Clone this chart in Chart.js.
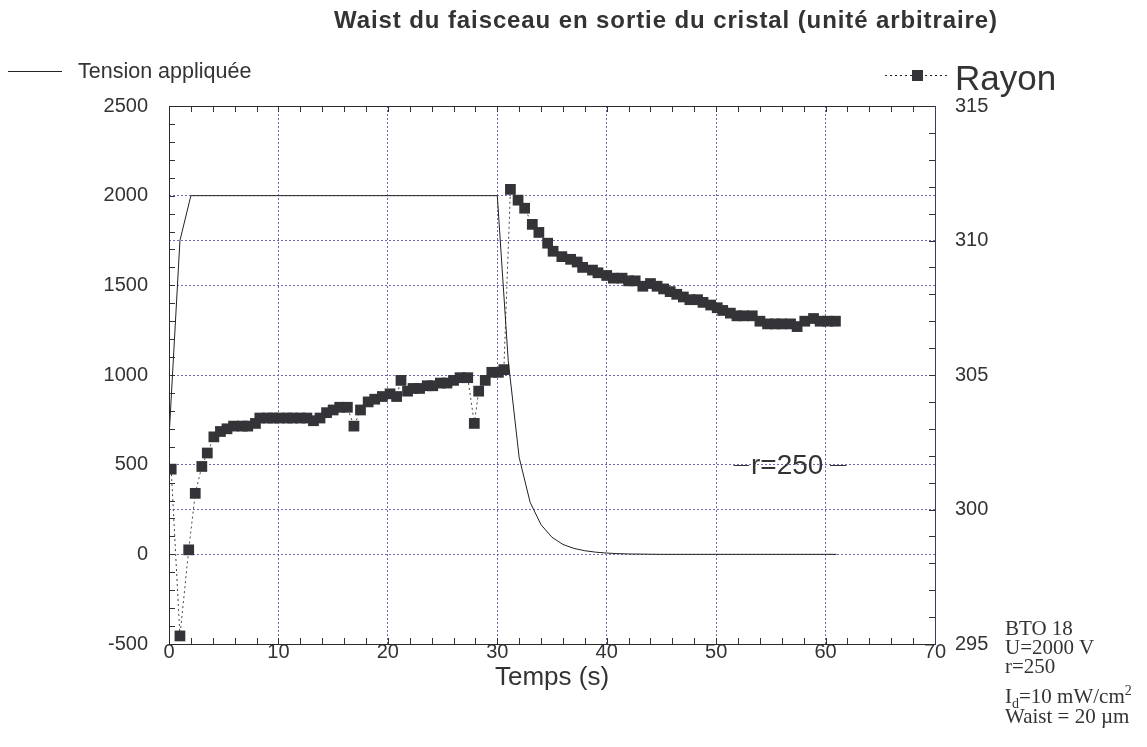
<!DOCTYPE html>
<html lang="fr">
<head>
<meta charset="utf-8">
<title>Waist du faisceau</title>
<script src="https://cdn.jsdelivr.net/npm/chart.js@4.4.1/dist/chart.umd.min.js"></script>
<style>
    body { margin: 0; background: #fff; }
    #zone { position: relative; width: 1147px; height: 747px; overflow: hidden; }
    #graphe { position: absolute; left: 0; top: 0; }
    .txt { position: absolute; white-space: nowrap; line-height: 1; color: #333;
           font-family: "Liberation Sans", Arial, Helvetica, sans-serif; }
    #titre { left: 666px; top: 8px; transform: translateX(-50%); font-size: 24px; font-weight: bold; letter-spacing: 0.9px; }
    #legTension { left: 78px; top: 61px; font-size: 21.5px; }
    #legRayon { left: 955px; top: 60px; font-size: 35px; }
    #labelR { left: 751px; top: 451px; font-size: 28px; }
    #notes { left: 1005px; top: 619px; font-family: "Liberation Serif", "Times New Roman", serif;
             font-size: 21px; line-height: 19px; color: #333; }
    #notes div { height: 19px; }
    #notes .esp1 { margin-top: 11px; }
    #notes .esp2 { margin-top: 1px; }
    sub, sup { font-size: 14px; line-height: 0; }
</style>
</head>
<body>
<div id="zone">
    <canvas id="graphe" width="1147" height="747"></canvas>
    <div class="txt" id="titre">Waist du faisceau en sortie du cristal (unité arbitraire)</div>
    <div class="txt" id="legTension">Tension appliquée</div>
    <div class="txt" id="legRayon">Rayon</div>
    <div class="txt" id="labelR">r=250</div>
    <div class="txt" id="notes">
        <div>BTO 18</div>
        <div>U=2000 V</div>
        <div>r=250</div>
        <div class="esp1">I<sub>d</sub>=10 mW/cm<sup>2</sup></div>
        <div class="esp2">Waist = 20 µm</div>
    </div>
</div>
<script>
/* ---- données ---- */
// Tension appliquée (axe de gauche, V)
const tensionTemps   = [0, 1, 2, 10, 20, 30, 31, 32, 33, 34, 35, 36, 37, 38, 39, 40, 41, 42, 45, 50, 55, 61];
const tensionValeurs = [650, 1750, 2000, 2000, 2000, 2000, 1080, 540, 290, 165, 95, 55, 33, 20, 12, 7, 4, 2, 0, 0, 0, 0];

// Rayon (axe de droite, unité arbitraire)
const rayonTemps = [
    0.2, 1.0, 1.8, 2.4, 3.0, 3.5, 4.1, 4.7, 5.3, 5.9, 6.7, 7.2, 7.9, 8.3, 9.0, 9.5, 10.1, 10.8, 11.3, 12.0,
    12.6, 13.2, 13.8, 14.4, 15.0, 15.6, 16.3, 16.9, 17.5, 18.2, 18.8, 19.5, 20.2, 20.8, 21.2, 21.8, 22.3, 22.9,
    23.6, 24.1, 24.8, 25.4, 26.0, 26.6, 27.3, 27.9, 28.3, 28.9, 29.5, 30.1, 30.6,
    31.2, 31.9, 32.5, 33.2, 33.8, 34.6, 35.1, 35.9, 36.7, 37.3, 37.8, 38.7, 39.2, 40.0, 40.6, 41.4, 42.0,
    42.6, 43.3, 44.0, 44.6, 45.2, 45.8, 46.4, 47.0, 47.6, 48.3, 48.8, 49.5, 50.1, 50.6, 51.3, 51.9, 52.5,
    53.3, 54.0, 54.7, 55.4, 56.0, 56.8, 57.4, 58.1, 58.9, 59.5, 60.2, 60.9
];
const rayonValeurs = [
    301.5, 295.3, 298.5, 300.6, 301.6, 302.1, 302.7, 302.9, 303.0, 303.1, 303.1, 303.1, 303.2, 303.4, 303.4, 303.4, 303.4, 303.4, 303.4, 303.4,
    303.4, 303.3, 303.4, 303.6, 303.7, 303.8, 303.8, 303.1, 303.7, 304.0, 304.1, 304.2, 304.3, 304.2, 304.8, 304.4, 304.5, 304.5,
    304.6, 304.6, 304.7, 304.7, 304.8, 304.9, 304.9, 303.2, 304.4, 304.8, 305.1, 305.1, 305.2,
    311.9, 311.5, 311.2, 310.6, 310.3, 309.9, 309.6, 309.4, 309.3, 309.2, 309.0, 308.9, 308.8, 308.7, 308.6, 308.6, 308.5,
    308.5, 308.3, 308.4, 308.3, 308.2, 308.1, 308.0, 307.9, 307.8, 307.8, 307.7, 307.6, 307.5, 307.4, 307.3, 307.2, 307.2,
    307.2, 307.0, 306.9, 306.9, 306.9, 306.9, 306.8, 307.0, 307.1, 307.0, 307.0, 307.0
];

// axes
const tempsMin = 0, tempsMax = 70, tempsPas = 10;
const tensionMin = -500, tensionMax = 2500, tensionPas = 500;
const rayonMin = 295, rayonMax = 315, rayonPas = 5;

const couleurTrait = '#333';
const couleurGrille = '#6a6ab0';
const police = '"Liberation Sans", Arial, Helvetica, sans-serif';

const versPoints = (xs, ys) => xs.map((x, i) => ({ x: x, y: ys[i] }));
const sansSeparateur = v => String(v);

// cadre, petites graduations, symboles de légende, étiquette r=250
const cadrePlugin = {
    id: 'cadre',
    afterDraw(chart) {
        const ctx = chart.ctx;
        const a = chart.chartArea;
        const sx = chart.scales.x, sy = chart.scales.y, sy2 = chart.scales.y2;
        ctx.save();
        ctx.strokeStyle = couleurTrait;
        ctx.lineWidth = 1;
        ctx.setLineDash([]);

        // graduations intérieures
        ctx.beginPath();
        for (let t = tempsMin; t <= tempsMax; t += 2) {
            const px = Math.round(sx.getPixelForValue(t)) + 0.5;
            ctx.moveTo(px, a.bottom); ctx.lineTo(px, a.bottom - 6);
            ctx.moveTo(px, a.top); ctx.lineTo(px, a.top + 6);
        }
        for (let v = tensionMin; v <= tensionMax; v += 100) {
            const py = Math.round(sy.getPixelForValue(v)) + 0.5;
            ctx.moveTo(a.left, py); ctx.lineTo(a.left + 6, py);
        }
        for (let v = rayonMin; v <= rayonMax; v += 1) {
            const py = Math.round(sy2.getPixelForValue(v)) + 0.5;
            ctx.moveTo(a.right, py); ctx.lineTo(a.right - 6, py);
        }
        ctx.stroke();

        // cadre
        ctx.strokeStyle = '#2a2a2a';
        ctx.strokeRect(Math.round(a.left) + 0.5, Math.round(a.top) + 0.5,
                       Math.round(a.right - a.left), Math.round(a.bottom - a.top));
        ctx.strokeStyle = '#3a3a6a';
        ctx.beginPath();
        ctx.moveTo(Math.round(a.right) + 0.5, a.top);
        ctx.lineTo(Math.round(a.right) + 0.5, a.bottom);
        ctx.stroke();

        // légende : tension
        ctx.strokeStyle = '#222';
        ctx.beginPath();
        ctx.moveTo(8, 71.5); ctx.lineTo(62, 71.5);
        ctx.stroke();

        // légende : rayon
        ctx.setLineDash([2, 3]);
        ctx.beginPath();
        ctx.moveTo(885, 75.5); ctx.lineTo(950, 75.5);
        ctx.stroke();
        ctx.setLineDash([]);
        ctx.fillStyle = '#333338';
        ctx.fillRect(912, 70, 11, 11);

        // traits autour de r=250
        const yr = Math.round(sy.getPixelForValue(500)) + 0.5;
        ctx.strokeStyle = '#333';
        ctx.beginPath();
        ctx.moveTo(sx.getPixelForValue(51.6), yr); ctx.lineTo(sx.getPixelForValue(53.0), yr);
        ctx.moveTo(sx.getPixelForValue(60.4), yr); ctx.lineTo(sx.getPixelForValue(61.9), yr);
        ctx.stroke();
        ctx.restore();
    }
};

const graphe = new Chart(document.getElementById('graphe'), {
    type: 'scatter',
    data: {
        datasets: [
            {
                label: 'Rayon',
                data: versPoints(rayonTemps, rayonValeurs),
                yAxisID: 'y2',
                showLine: true,
                borderColor: '#444',
                borderWidth: 1,
                borderDash: [2, 3],
                pointStyle: 'rect',
                pointRadius: 7.6,
                pointBackgroundColor: '#333338',
                pointBorderColor: '#333338',
                pointBorderWidth: 0,
                order: 2
            },
            {
                label: 'Tension appliquée',
                data: versPoints(tensionTemps, tensionValeurs),
                yAxisID: 'y',
                showLine: true,
                borderColor: '#222',
                borderWidth: 1,
                pointRadius: 0,
                order: 1
            }
        ]
    },
    options: {
        responsive: false,
        animation: false,
        layout: { padding: { top: 106, left: 0, right: 0, bottom: 0 } },
        plugins: {
            legend: { display: false },
            tooltip: { enabled: false }
        },
        scales: {
            x: {
                type: 'linear',
                min: tempsMin, max: tempsMax,
                afterFit(scale) { scale.height = 103; },
                ticks: { stepSize: tempsPas, padding: -4, color: couleurTrait, callback: sansSeparateur,
                         font: { family: police, size: 20 } },
                grid: { color: couleurGrille, lineWidth: 1, drawTicks: false },
                border: { display: false, dash: [2, 2] },
                title: {
                    display: true, text: 'Temps (s)', color: couleurTrait,
                    font: { family: police, size: 26 },
                    padding: { top: 0, bottom: 54 }
                }
            },
            y: {
                position: 'left',
                min: tensionMin, max: tensionMax,
                afterFit(scale) { scale.width = 169; },
                ticks: { stepSize: tensionPas, padding: 21, color: couleurTrait, callback: sansSeparateur,
                         font: { family: police, size: 20 } },
                grid: { color: couleurGrille, lineWidth: 1, drawTicks: false },
                border: { display: false, dash: [2, 2] }
            },
            y2: {
                position: 'right',
                min: rayonMin, max: rayonMax,
                afterFit(scale) { scale.width = 212; },
                ticks: { stepSize: rayonPas, padding: 20, color: couleurTrait, callback: sansSeparateur,
                         font: { family: police, size: 20 } },
                grid: { color: couleurGrille, lineWidth: 1, drawTicks: false },
                border: { display: false, dash: [2, 2] }
            }
        }
    },
    plugins: [cadrePlugin]
});
</script>
</body>
</html>
